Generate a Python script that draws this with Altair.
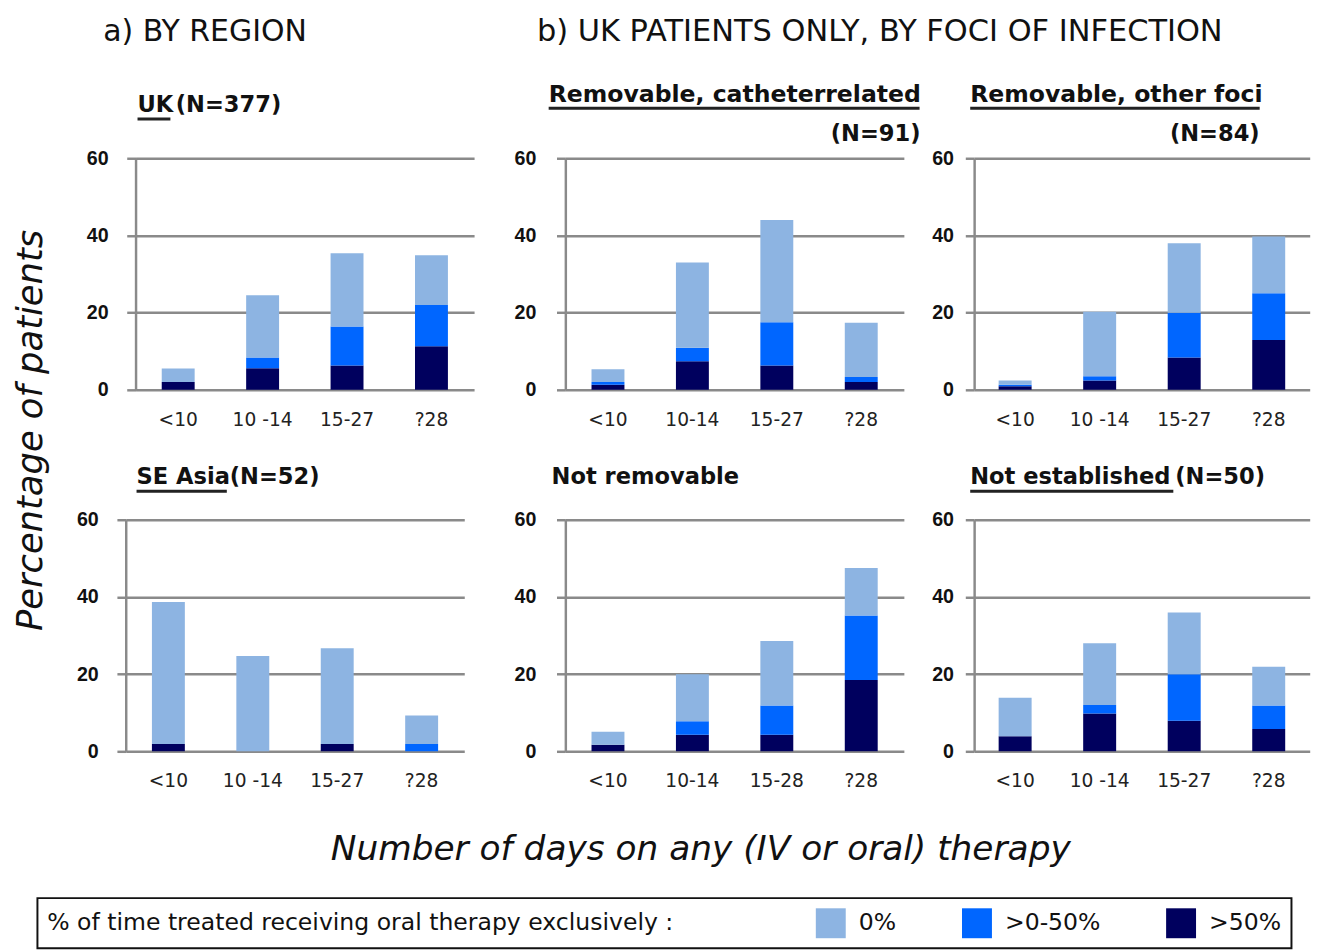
import altair as alt
import pandas as pd

# ---------------- data (percentage of patients, stacked segments) ----------------
groups = ["0%", ">0-50%", ">50%"]
group_colors = ["#8DB4E2", "#0066FF", "#00005E"]

bins_uk = ["<10", "10 -14", "15-27", "?28"]
uk_over50 = [2.0, 5.6, 6.3, 11.3]
uk_upto50 = [0.0, 2.8, 10.1, 10.7]
uk_zero = [3.5, 16.1, 19.0, 12.9]

bins_cath = ["<10", "10-14", "15-27", "?28"]
cath_over50 = [1.3, 7.4, 6.3, 2.0]
cath_upto50 = [0.7, 3.5, 11.2, 1.3]
cath_zero = [3.3, 22.1, 26.5, 14.1]

bins_other = ["<10", "10 -14", "15-27", "?28"]
other_over50 = [0.9, 2.4, 8.4, 12.9]
other_upto50 = [0.4, 1.1, 11.6, 12.1]
other_zero = [1.1, 16.7, 18.0, 14.7]

bins_asia = ["<10", "10 -14", "15-27", "?28"]
asia_over50 = [1.9, 0.0, 1.9, 0.0]
asia_upto50 = [0.0, 0.0, 0.0, 1.9]
asia_zero = [36.8, 24.7, 24.8, 7.4]

bins_notrem = ["<10", "10-14", "15-28", "?28"]
notrem_over50 = [1.7, 4.3, 4.3, 18.5]
notrem_upto50 = [0.0, 3.5, 7.6, 16.7]
notrem_zero = [3.4, 12.2, 16.7, 12.3]

bins_notest = ["<10", "10 -14", "15-27", "?28"]
notest_over50 = [3.9, 9.8, 7.9, 5.8]
notest_upto50 = [0.0, 2.2, 12.1, 6.1]
notest_zero = [10.0, 16.0, 16.0, 10.0]

LEGEND_TITLE = "% of time  treated receiving oral therapy exclusively :"

TXT_FONT = "DejaVu Sans"
GRID = "#8a8a8a"
PANEL_H = 236


def long_df(bins, over50, upto50, zero):
    rows = []
    for i, b in enumerate(bins):
        rows.append({"bin": b, "group": ">50%", "value": over50[i], "k": 0})
        rows.append({"bin": b, "group": ">0-50%", "value": upto50[i], "k": 1})
        rows.append({"bin": b, "group": "0%", "value": zero[i], "k": 2})
    return pd.DataFrame(rows)


one = pd.DataFrame({"d": [0]})


def txt(s, x, y, size=23, weight="bold", align="left", style="normal", angle=0):
    kw = dict(font=TXT_FONT, fontSize=size, fontWeight=weight, align=align,
              baseline="middle", color="#111")
    if style != "normal":
        kw["fontStyle"] = style
    if angle:
        kw["angle"] = angle
    return alt.Chart(one).mark_text(**kw).encode(
        x=alt.value(x), y=alt.value(y), text=alt.value(s))


def uline(x1, x2, y):
    return alt.Chart(one).mark_rule(color="#222", strokeWidth=3).encode(
        x=alt.value(x1), x2=alt.value(x2), y=alt.value(y))


def spacer():
    return alt.Chart(one).mark_point(opacity=0).encode(
        x=alt.value(0), y=alt.value(0)).properties(width=1, height=1)


def panel(bins, over50, upto50, zero, width, label_pad, extras, pouter=0.31):
    df = long_df(bins, over50, upto50, zero)
    bars = alt.Chart(df).mark_bar().encode(
        x=alt.X("bin:N", sort=bins,
                scale=alt.Scale(paddingInner=0.61, paddingOuter=pouter),
                axis=alt.Axis(title=None, labelAngle=0, domain=False, ticks=False,
                              grid=False, labelPadding=21, labelFont=TXT_FONT,
                              labelFontSize=19, labelColor="#222")),
        y=alt.Y("value:Q", stack="zero",
                scale=alt.Scale(domain=[0, 60], nice=False),
                axis=alt.Axis(title=None, values=[0, 20, 40, 60], grid=True,
                              gridColor=GRID, gridWidth=2.5, domainColor=GRID,
                              domainWidth=2.5, tickColor=GRID, tickWidth=2.5,
                              tickSize=9, labelPadding=label_pad,
                              labelFont="Liberation Sans", labelFontWeight="bold",
                              labelFontSize=20, labelColor="#111")),
        color=alt.Color("group:N",
                        scale=alt.Scale(domain=groups, range=group_colors),
                        legend=alt.Legend(title=LEGEND_TITLE, orient="none",
                                          legendX=-88, legendY=754,
                                          direction="horizontal")),
        order=alt.Order("k:Q", sort="ascending"),
    ).properties(width=width, height=PANEL_H)
    return alt.layer(bars, *extras)


p1 = panel(bins_uk, uk_over50, uk_upto50, uk_zero, 345, 19, [
    txt("a) BY REGION", -33, -128, size=30.5, weight="normal"),
    txt("UK", 2, -54),
    txt("(N=377)", 41, -54),
    uline(2, 35.5, -40),
])

p2 = panel(bins_cath, cath_over50, cath_upto50, cath_zero, 345, 21, [
    txt("b) UK PATIENTS ONLY, BY FOCI OF INFECTION", -29, -128, size=31, weight="normal"),
    txt("Removable, catheterrelated", -17, -64, size=24),
    uline(-17, 361, -51),
    txt("(N=91)", 362, -25, align="right"),
])

p3 = panel(bins_other, other_over50, other_upto50, other_zero, 342, 12, [
    txt("Removable, other foci", -4, -64, size=24),
    uline(-4, 291, -51),
    txt("(N=84)", 291, -25, align="right"),
], pouter=0.29)

p4 = panel(bins_asia, asia_over50, asia_upto50, asia_zero, 345, 19, [
    txt("SE Asia", 11, -43),
    txt("(N=52)", 106, -43),
    uline(11, 103, -29),
    txt("Percentage of patients", -96, -91, size=36, weight="normal",
        align="center", style="italic", angle=270),
])

p5 = panel(bins_notrem, notrem_over50, notrem_upto50, notrem_zero, 345, 21, [
    txt("Not removable", -14, -43),
    txt("Number of days on any (IV or oral) therapy", 138, 336, size=35,
        weight="normal", align="center", style="italic"),
])

p6 = panel(bins_notest, notest_over50, notest_upto50, notest_zero, 342, 12, [
    txt("Not established", -4, -43),
    txt("(N=50)", 205, -43),
    uline(-4, 203, -29),
], pouter=0.29)

# nested groups count as zero size with flush bounds, so spacing is origin-to-origin;
# a 1px spacer lets the lower-left panel sit a little further left than the upper-left one
row1 = alt.hconcat(
    spacer(),
    alt.hconcat(p1, alt.hconcat(p2, p3, spacing=71.6, bounds="flush"),
                spacing=93, bounds="flush"),
    spacing=11, bounds="flush")
row2 = alt.hconcat(
    spacer(),
    alt.hconcat(p4, alt.hconcat(p5, p6, spacing=71.6, bounds="flush"),
                spacing=103, bounds="flush"),
    spacing=1, bounds="flush")

chart = alt.vconcat(row1, row2, spacing=PANEL_H + 132.4, bounds="flush").properties(
    padding={"left": 5, "top": -1, "right": 5, "bottom": 5}
).configure_view(
    stroke="transparent"
).configure_legend(
    titleOrient="left", titleFont=TXT_FONT, titleFontSize=24,
    titleFontWeight="normal", titleColor="#111", titleLimit=1200,
    titlePadding=136, labelFont=TXT_FONT, labelFontSize=24, labelColor="#111",
    labelOffset=13, symbolType="square", symbolSize=930, symbolStrokeWidth=0,
    columnPadding=66, padding=10, strokeColor="#111", strokeWidth=2,
    titleBaseline="middle"
)

chart.save("out.html", embed_options={"renderer": "svg", "actions": False})
